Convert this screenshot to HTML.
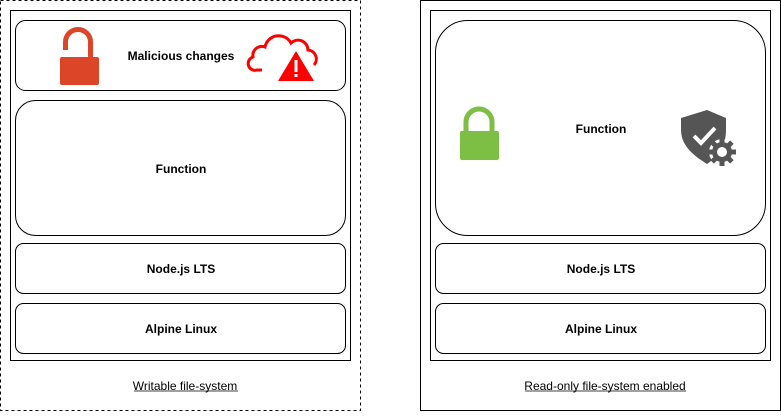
<!DOCTYPE html>
<html><head><meta charset="utf-8"><style>
html,body{margin:0;padding:0;background:#fff;}
svg text{font-family:"Liberation Sans",Arial,sans-serif;font-size:12px;fill:#000;}
</style></head><body>
<svg width="781" height="411" viewBox="0 0 781 411" xmlns="http://www.w3.org/2000/svg">
<g fill="none" stroke="#000" stroke-width="1">
<rect x="0.5" y="0.5" width="360" height="410" stroke-dasharray="3,3"/>
<rect x="10.5" y="10.5" width="340" height="350"/>
<rect x="15.5" y="20.5" width="330" height="70" rx="10"/>
<rect x="15.5" y="100.5" width="330" height="135" rx="20"/>
<rect x="15.5" y="243.5" width="330" height="50" rx="8"/>
<rect x="15.5" y="303.5" width="330" height="50" rx="8"/>
<rect x="420.5" y="0.5" width="360" height="410"/>
<rect x="430.5" y="10.5" width="340" height="350"/>
<rect x="435.5" y="20.5" width="330" height="215" rx="32"/>
<rect x="435.5" y="243.5" width="330" height="50" rx="8"/>
<rect x="435.5" y="303.5" width="330" height="50" rx="8"/>
</g>
<g font-weight="bold" text-anchor="middle">
<text x="181" y="60" font-weight="bold">Malicious changes</text>
<text x="181" y="173" font-weight="bold">Function</text>
<text x="181" y="273" font-weight="bold">Node.js LTS</text>
<text x="181" y="333" font-weight="bold">Alpine Linux</text>
<text x="601" y="133" font-weight="bold">Function</text>
<text x="601" y="273" font-weight="bold">Node.js LTS</text>
<text x="601" y="333" font-weight="bold">Alpine Linux</text>
</g>
<text x="185" y="390" text-anchor="middle">Writable file-system</text>
<line x1="134" y1="391" x2="238" y2="391" stroke="#000" stroke-width="0.8"/>
<text x="605" y="390" text-anchor="middle">Read-only file-system enabled</text>
<line x1="525" y1="391" x2="686" y2="391" stroke="#000" stroke-width="0.8"/>
<!-- open red lock -->
<path d="M65.5 50 V42 a12.5 12.5 0 0 1 25 0 V58" fill="none" stroke="#dd4528" stroke-width="5"/>
<rect x="60" y="57" width="39" height="28" rx="2" fill="#dd4528"/>
<!-- cloud with warning -->
<path d="M262 70 h-5 a6 6 0 0 1 -4 -13 a9 9 0 0 1 12 -10 a14 14 0 0 1 26 -4 a10 10 0 0 1 17 7 a9 9 0 0 1 6 15" fill="none" stroke="#f00" stroke-width="3"/>
<path d="M296 51 L314 81 H278 Z" fill="#f00"/>
<rect x="294.5" y="60" width="3" height="12" fill="#fff"/>
<rect x="294.5" y="74" width="3" height="3" fill="#fff"/>
<!-- green lock -->
<path d="M466 132 V122 a13 13 0 0 1 26 0 V132" fill="none" stroke="#7dbe44" stroke-width="5"/>
<rect x="460" y="131" width="39" height="29" rx="2" fill="#7dbe44"/>
<!-- shield gear -->
<path d="M707 110 L726 118 V130 C726 148 716 158 707 164 C698 158 681 148 681 130 V118 Z" fill="#555"/>
<path d="M694 136 L701 143 L715 128" fill="none" stroke="#fff" stroke-width="4"/>
<circle cx="722" cy="152" r="13" fill="#fff"/>
<g fill="#555" transform="translate(722,152)">
<g id="t"><rect x="-2.5" y="-14" width="5" height="6"/></g>
<use href="#t" transform="rotate(45)"/><use href="#t" transform="rotate(90)"/><use href="#t" transform="rotate(135)"/>
<use href="#t" transform="rotate(180)"/><use href="#t" transform="rotate(225)"/><use href="#t" transform="rotate(270)"/><use href="#t" transform="rotate(315)"/>
<circle r="10" fill="#555"/><circle r="5" fill="#fff"/>
</g>
</svg>
</body></html>
